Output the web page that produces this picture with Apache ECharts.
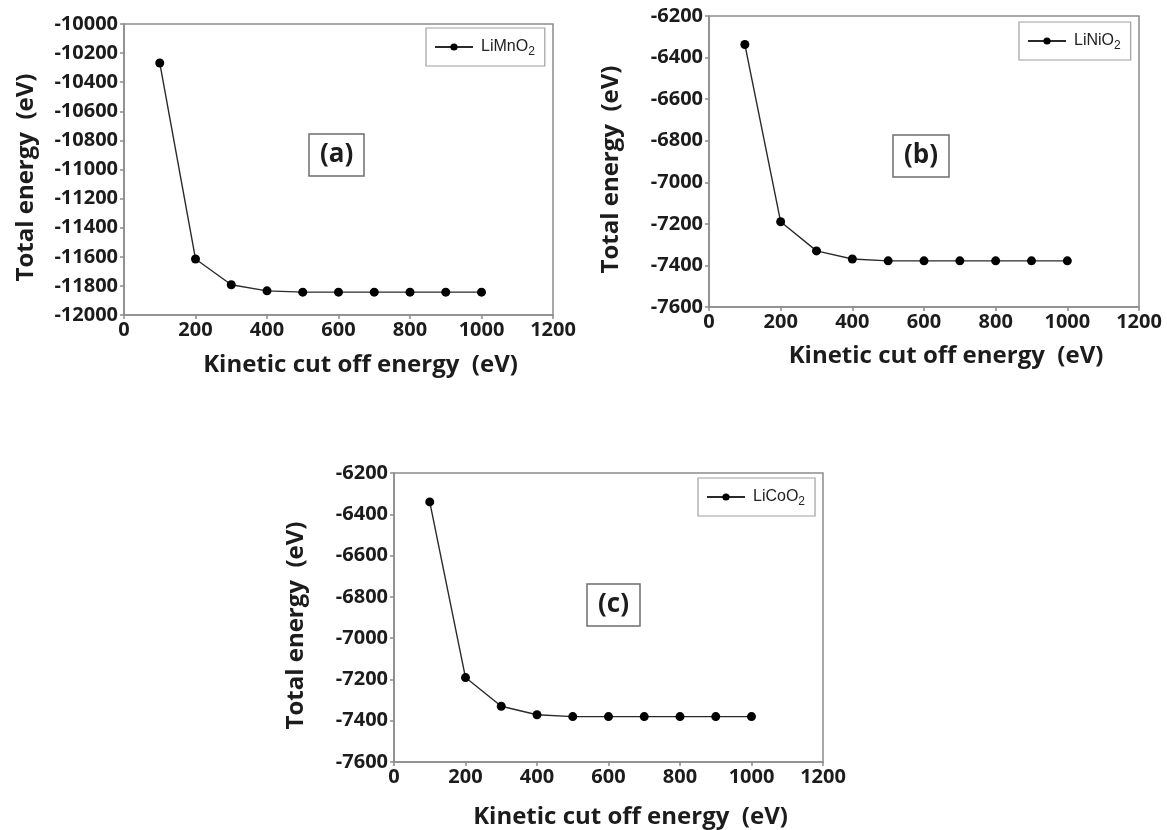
<!DOCTYPE html>
<html>
<head>
<meta charset="utf-8">
<title>Total energy vs kinetic cut off energy</title>
<script src="https://cdn.jsdelivr.net/npm/echarts@6/dist/echarts.min.js"></script>
<style>
  html, body { margin: 0; padding: 0; background: #ffffff; }
  #chart { width: 1167px; height: 830px; }
</style>
</head>
<body>
<div id="chart"></div>
<script>
// Kinetic cut off energy (eV) at which each total energy was computed
const cutoffEnergy = [100, 200, 300, 400, 500, 600, 700, 800, 900, 1000];

// Total energy (eV) for each compound
const energyLiMnO2 = [-10268, -11615, -11792, -11834, -11843, -11843, -11843, -11843, -11843, -11843];
const energyLiNiO2 = [-6337, -7190, -7330, -7369, -7378, -7378, -7378, -7378, -7378, -7378];
const energyLiCoO2 = [-6340, -7191, -7330, -7371, -7380, -7380, -7380, -7380, -7380, -7380];

const seriesNames = ['LiMnO2', 'LiNiO2', 'LiCoO2'];
const panelTags = ['(a)', '(b)', '(c)'];

// Axis extents
const xRange = { min: 0, max: 1200, interval: 200 };
const yRanges = [
  { min: -12000, max: -10000, interval: 200 },
  { min: -7600, max: -6200, interval: 200 },
  { min: -7600, max: -6200, interval: 200 }
];

const xTitle = 'Kinetic cut off energy  (eV)';
const yTitle = 'Total energy  (eV)';

// Panel layout (pixels)
const grids = [
  { left: 124, top: 24, width: 429, height: 291 },
  { left: 709, top: 16, width: 430, height: 291 },
  { left: 394, top: 473, width: 429, height: 290 }
];
const legendPos = [
  { left: 426, top: 28 },
  { left: 1019, top: 22 },
  { left: 698, top: 478 }
];
const tagPos = [
  { left: 309, top: 134 },
  { left: 893, top: 135 },
  { left: 587, top: 584 }
];
const xNameGap = [38, 37, 43];

const AXIS_GREY = '#8c8c8c';
const INK = '#1c1c1c';
const BOLD_FONT = 'Open Sans';

const allSeriesData = [energyLiMnO2, energyLiNiO2, energyLiCoO2];

const option = {
  backgroundColor: '#ffffff',
  animation: false,
  title: panelTags.map((t, i) => ({
    text: t,
    left: tagPos[i].left,
    top: tagPos[i].top,
    padding: [6, 11, 6, 11],
    borderColor: '#6e6e6e',
    borderWidth: 1.5,
    textStyle: {
      fontFamily: BOLD_FONT,
      fontWeight: 'bold',
      fontSize: 26,
      lineHeight: 30,
      color: INK
    }
  })),
  grid: grids.map(g => ({
    left: g.left, top: g.top, width: g.width, height: g.height,
    show: true,
    borderColor: AXIS_GREY,
    borderWidth: 1.5,
    backgroundColor: 'transparent',
    containLabel: false
  })),
  legend: seriesNames.map((n, i) => ({
    data: [n],
    left: legendPos[i].left,
    top: legendPos[i].top,
    orient: 'horizontal',
    padding: [8, 10, 8, 8],
    borderColor: '#a0a0a0',
    borderWidth: 1.2,
    itemWidth: 38,
    itemHeight: 9,
    selectedMode: false,
    formatter: name => name.replace(/(\d)$/, '{s|$1}'),
    textStyle: {
      fontFamily: 'Liberation Sans',
      fontSize: 16,
      lineHeight: 22,
      color: '#222222',
      padding: [0, 0, 0, 3],
      rich: {
        s: {
          fontFamily: 'Liberation Sans',
          fontSize: 12,
          lineHeight: 22,
          verticalAlign: 'bottom',
          color: '#222222'
        }
      }
    }
  })),
  xAxis: grids.map((g, i) => ({
    type: 'value',
    gridIndex: i,
    min: xRange.min,
    max: xRange.max,
    interval: xRange.interval,
    name: xTitle,
    nameLocation: 'middle',
    nameGap: xNameGap[i],
    nameTextStyle: {
      fontFamily: BOLD_FONT,
      fontWeight: 'bold',
      fontSize: 24,
      color: INK,
      padding: [0, 0, 0, 44]
    },
    axisLine: { show: true, onZero: false, lineStyle: { color: AXIS_GREY, width: 1.5 } },
    axisTick: { show: true, inside: false, length: 4, lineStyle: { color: AXIS_GREY, width: 1.5 } },
    splitLine: { show: false },
    axisLabel: {
      margin: 5,
      fontFamily: BOLD_FONT,
      fontWeight: 'bold',
      fontSize: 20,
      color: INK,
      formatter: v => String(v)
    }
  })),
  yAxis: grids.map((g, i) => ({
    type: 'value',
    gridIndex: i,
    min: yRanges[i].min,
    max: yRanges[i].max,
    interval: yRanges[i].interval,
    name: yTitle,
    nameLocation: 'middle',
    nameRotate: 90,
    nameGap: 86,
    nameTextStyle: {
      fontFamily: BOLD_FONT,
      fontWeight: 'bold',
      fontSize: 24,
      color: INK,
      padding: [0, 16, 0, 0]
    },
    axisLine: { show: true, onZero: false, lineStyle: { color: AXIS_GREY, width: 1.5 } },
    axisTick: { show: true, inside: false, length: 4, lineStyle: { color: AXIS_GREY, width: 1.5 } },
    splitLine: { show: false },
    axisLabel: {
      margin: 6,
      fontFamily: BOLD_FONT,
      fontWeight: 'bold',
      fontSize: 20,
      color: INK,
      formatter: v => String(v)
    }
  })),
  series: seriesNames.map((n, i) => ({
    name: n,
    type: 'line',
    xAxisIndex: i,
    yAxisIndex: i,
    data: cutoffEnergy.map((x, k) => [x, allSeriesData[i][k]]),
    symbol: 'circle',
    symbolSize: 9,
    showSymbol: true,
    smooth: false,
    lineStyle: { color: '#2a2a2a', width: 1.4 },
    itemStyle: { color: '#000000', borderWidth: 0 },
    emphasis: { disabled: true }
  }))
};

const chart = echarts.init(document.getElementById('chart'), null, { renderer: 'canvas' });
chart.setOption(option);
</script>
</body>
</html>
